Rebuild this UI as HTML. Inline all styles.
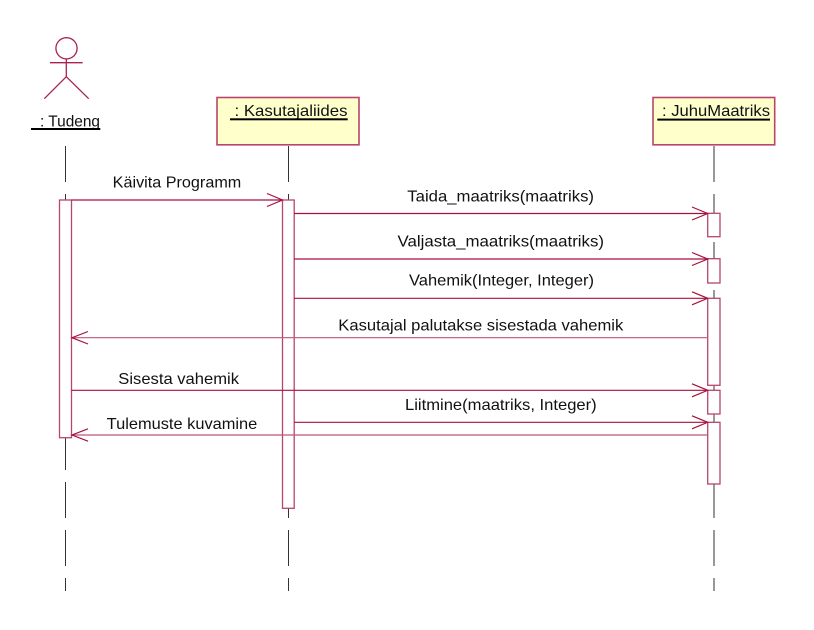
<!DOCTYPE html>
<html>
<head>
<meta charset="utf-8">
<style>
html,body{margin:0;padding:0;background:#fff;}
svg{display:block;}
text{font-family:"Liberation Sans",Arial,sans-serif;font-size:16px;fill:#111;}
</style>
</head>
<body>
<svg width="814" height="630" viewBox="0 0 814 630" xmlns="http://www.w3.org/2000/svg">
  <rect x="0" y="0" width="814" height="630" fill="#fff"/>

  <!-- Lifelines -->
  <g stroke="#333" stroke-width="1" stroke-dasharray="36 12" fill="none">
    <line x1="65.5" y1="146" x2="65.5" y2="591"/>
    <line x1="288.5" y1="146" x2="288.5" y2="591"/>
    <line x1="714" y1="146" x2="714" y2="591"/>
  </g>

  <!-- Actor -->
  <g stroke="#a8234f" stroke-width="1.3" fill="none">
    <circle cx="66.5" cy="48.3" r="10.6"/>
    <line x1="50" y1="62.7" x2="82.7" y2="62.7"/>
    <line x1="66.3" y1="59" x2="66.3" y2="76.7"/>
    <line x1="66.3" y1="76.7" x2="44.3" y2="98.7"/>
    <line x1="66.3" y1="76.7" x2="88.7" y2="98.7"/>
  </g>
  <text x="40" y="126.7" textLength="60" lengthAdjust="spacingAndGlyphs">: Tudeng</text>
  <rect x="31" y="128" width="69.3" height="2" fill="#000"/>

  <!-- Object boxes -->
  <rect x="217" y="97.5" width="142" height="47.3" fill="#ffffcc" stroke="#b8456c" stroke-width="1.6"/>
  <text x="234.5" y="116" textLength="113" lengthAdjust="spacingAndGlyphs">: Kasutajaliides</text>
  <rect x="230" y="118.3" width="117.7" height="2" fill="#000"/>

  <rect x="653" y="97.5" width="121.7" height="47.3" fill="#ffffcc" stroke="#b8456c" stroke-width="1.6"/>
  <text x="662" y="116" textLength="108" lengthAdjust="spacingAndGlyphs">: JuhuMaatriks</text>
  <rect x="657.3" y="118.6" width="112.7" height="2" fill="#000"/>

  <!-- Activation boxes -->
  <g fill="#fff" stroke="#b8456c" stroke-width="1.3">
    <rect x="59.5" y="200" width="12" height="237.7"/>
    <rect x="282.5" y="200" width="11.7" height="308.3"/>
    <rect x="707.7" y="213.3" width="12.3" height="23.4"/>
    <rect x="707.7" y="258.7" width="12.3" height="24.3"/>
    <rect x="707.7" y="298.3" width="12.3" height="87"/>
    <rect x="707.7" y="390.3" width="12.3" height="23.7"/>
    <rect x="707.7" y="422.3" width="12.3" height="61.7"/>
  </g>

  <!-- Messages -->
  <g stroke="#a8103f" stroke-width="1.2" fill="none">
    <line x1="71.5" y1="200" x2="282.5" y2="200"/>
    <polyline points="267,193.5 282.5,200 267,206.5"/>
    <line x1="294.2" y1="213.5" x2="707.7" y2="213.5"/>
    <polyline points="692,207 707.7,213.5 692,220"/>
    <line x1="294.2" y1="259" x2="707.7" y2="259"/>
    <polyline points="692,252.5 707.7,259 692,265.5"/>
    <line x1="294.2" y1="298.3" x2="707.7" y2="298.3"/>
    <polyline points="692,291.8 707.7,298.3 692,304.8"/>
    <line x1="707.7" y1="337.7" x2="71.5" y2="337.7" stroke="#c0557a"/>
    <polyline points="88,331.5 72,337.7 88,344"/>
    <line x1="71.5" y1="390.3" x2="707.7" y2="390.3"/>
    <polyline points="692,383.8 707.7,390.3 692,396.8"/>
    <line x1="294.2" y1="422.3" x2="707.7" y2="422.3"/>
    <polyline points="692,415.8 707.7,422.3 692,428.8"/>
    <line x1="707.7" y1="435" x2="71.5" y2="435" stroke="#c0557a"/>
    <polyline points="88,428.8 72,435 88,441.2"/>
  </g>

  <!-- Message labels -->
  <text x="112.7" y="187.3" textLength="128.6" lengthAdjust="spacingAndGlyphs">Käivita Programm</text>
  <text x="407.3" y="201.7" textLength="186.7" lengthAdjust="spacingAndGlyphs">Taida_maatriks(maatriks)</text>
  <text x="397.5" y="246.7" textLength="206.5" lengthAdjust="spacingAndGlyphs">Valjasta_maatriks(maatriks)</text>
  <text x="409" y="285.7" textLength="185" lengthAdjust="spacingAndGlyphs">Vahemik(Integer, Integer)</text>
  <text x="338.3" y="330.7" textLength="285" lengthAdjust="spacingAndGlyphs">Kasutajal palutakse sisestada vahemik</text>
  <text x="118.3" y="384" textLength="120.7" lengthAdjust="spacingAndGlyphs">Sisesta vahemik</text>
  <text x="405" y="410" textLength="191.7" lengthAdjust="spacingAndGlyphs">Liitmine(maatriks, Integer)</text>
  <text x="106.7" y="429" textLength="150.6" lengthAdjust="spacingAndGlyphs">Tulemuste kuvamine</text>
</svg>
</body>
</html>
